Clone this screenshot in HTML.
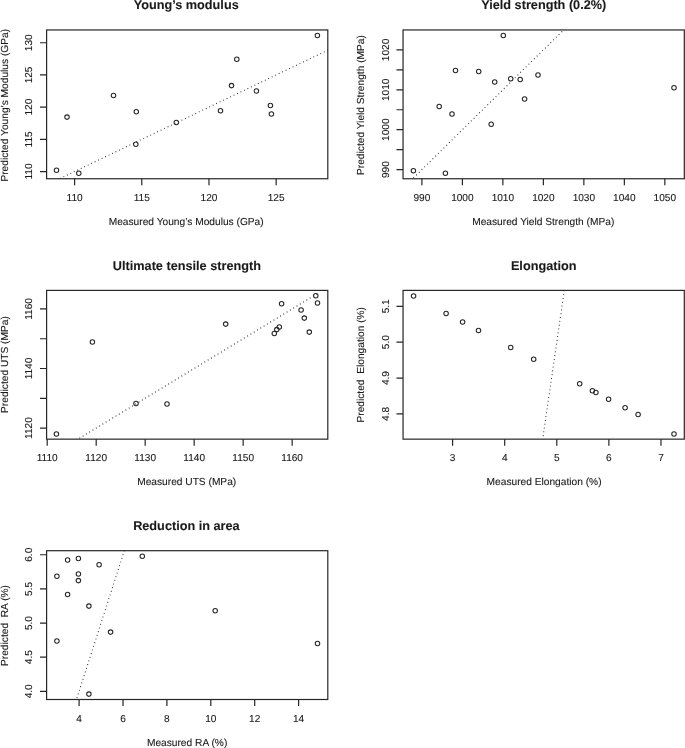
<!DOCTYPE html>
<html><head><meta charset="utf-8"><title>Predicted vs measured</title>
<style>
html,body{margin:0;padding:0;background:#fff;}
body{width:685px;height:748px;overflow:hidden;}
svg{display:block;will-change:transform;filter:grayscale(1) blur(0.3px);}
text{text-rendering:geometricPrecision;font-family:"Liberation Sans",sans-serif;fill:#1a1a1a;stroke:#1a1a1a;stroke-width:0.1px;}
.a{font-size:10.2px;}
.t{font-size:12.7px;font-weight:bold;}
.k{font-size:10.1px;}
.l{stroke:#262626;stroke-width:1.2;fill:none;}
.c{stroke:#262626;stroke-width:1.05;fill:none;}
.d{stroke:#262626;stroke-width:1.05;fill:none;stroke-dasharray:0.9 2.95;}
</style></head><body>
<svg width="685" height="748" viewBox="0 0 685 748">
<rect x="0" y="0" width="685" height="748" fill="#fff"/>
<g>
<clipPath id="cp0"><rect x="46.6" y="29.95" width="281.20" height="148.80"/></clipPath>
<rect class="l" x="46.6" y="29.95" width="281.20" height="148.80"/>
<line class="d" clip-path="url(#cp0)" x1="56.50" y1="180.22" x2="358.68" y2="35.40"/>
<path class="l" d="M74.60 178.75v6.6M141.78 178.75v6.6M208.97 178.75v6.6M276.15 178.75v6.6M46.6 171.55h-6.6M46.6 139.35h-6.6M46.6 107.15h-6.6M46.6 74.95h-6.6M46.6 42.75h-6.6"/>
<text class="k" text-anchor="middle" x="74.60" y="200.65">110</text>
<text class="k" text-anchor="middle" x="141.78" y="200.65">115</text>
<text class="k" text-anchor="middle" x="208.97" y="200.65">120</text>
<text class="k" text-anchor="middle" x="276.15" y="200.65">125</text>
<text class="k" text-anchor="middle" transform="translate(32.20 171.55) rotate(-90)">110</text>
<text class="k" text-anchor="middle" transform="translate(32.20 139.35) rotate(-90)">115</text>
<text class="k" text-anchor="middle" transform="translate(32.20 107.15) rotate(-90)">120</text>
<text class="k" text-anchor="middle" transform="translate(32.20 74.95) rotate(-90)">125</text>
<text class="k" text-anchor="middle" transform="translate(32.20 42.75) rotate(-90)">130</text>
<text class="t" text-anchor="middle" x="186.20" y="9.45">Young’s modulus</text>
<text class="a" text-anchor="middle" x="186.20" y="224.70">Measured Young’s Modulus (GPa)</text>
<text class="a" text-anchor="middle" transform="translate(7.70 105.25) rotate(-90)" xml:space="preserve">Predicted Young’s Modulus (GPa)</text>
<circle class="c" cx="56.5" cy="170.3" r="2.25"/>
<circle class="c" cx="78.8" cy="173.3" r="2.25"/>
<circle class="c" cx="67.0" cy="117.1" r="2.25"/>
<circle class="c" cx="113.5" cy="95.4" r="2.25"/>
<circle class="c" cx="136.3" cy="111.7" r="2.25"/>
<circle class="c" cx="135.8" cy="144.2" r="2.25"/>
<circle class="c" cx="317.4" cy="35.4" r="2.25"/>
<circle class="c" cx="236.8" cy="59.3" r="2.25"/>
<circle class="c" cx="231.5" cy="85.6" r="2.25"/>
<circle class="c" cx="256.4" cy="90.9" r="2.25"/>
<circle class="c" cx="270.4" cy="105.4" r="2.25"/>
<circle class="c" cx="271.4" cy="114.0" r="2.25"/>
<circle class="c" cx="220.5" cy="110.7" r="2.25"/>
<circle class="c" cx="176.3" cy="122.5" r="2.25"/>
</g>
<g>
<clipPath id="cp1"><rect x="403.05" y="29.95" width="281.25" height="148.80"/></clipPath>
<rect class="l" x="403.05" y="29.95" width="281.25" height="148.80"/>
<line class="d" clip-path="url(#cp1)" x1="413.40" y1="177.98" x2="674.00" y2="-78.83"/>
<path class="l" d="M421.90 178.75v6.6M462.39 178.75v6.6M502.88 178.75v6.6M543.37 178.75v6.6M583.86 178.75v6.6M624.35 178.75v6.6M664.84 178.75v6.6M403.05 169.60h-6.6M403.05 149.65h-6.6M403.05 129.70h-6.6M403.05 109.75h-6.6M403.05 89.80h-6.6M403.05 69.85h-6.6M403.05 49.90h-6.6"/>
<text class="k" text-anchor="middle" x="421.90" y="200.65">990</text>
<text class="k" text-anchor="middle" x="462.39" y="200.65">1000</text>
<text class="k" text-anchor="middle" x="502.88" y="200.65">1010</text>
<text class="k" text-anchor="middle" x="543.37" y="200.65">1020</text>
<text class="k" text-anchor="middle" x="583.86" y="200.65">1030</text>
<text class="k" text-anchor="middle" x="624.35" y="200.65">1040</text>
<text class="k" text-anchor="middle" x="664.84" y="200.65">1050</text>
<text class="k" text-anchor="middle" transform="translate(388.65 169.60) rotate(-90)">990</text>
<text class="k" text-anchor="middle" transform="translate(388.65 129.70) rotate(-90)">1000</text>
<text class="k" text-anchor="middle" transform="translate(388.65 89.80) rotate(-90)">1010</text>
<text class="k" text-anchor="middle" transform="translate(388.65 49.90) rotate(-90)">1020</text>
<text class="t" text-anchor="middle" x="543.77" y="9.45">Yield strength (0.2%)</text>
<text class="a" text-anchor="middle" x="543.27" y="224.70">Measured Yield Strength (MPa)</text>
<text class="a" text-anchor="middle" transform="translate(364.15 105.05) rotate(-90)" xml:space="preserve">Predicted Yield Strength (MPa)</text>
<circle class="c" cx="503.3" cy="35.4" r="2.25"/>
<circle class="c" cx="455.5" cy="70.5" r="2.25"/>
<circle class="c" cx="478.7" cy="71.5" r="2.25"/>
<circle class="c" cx="494.7" cy="82.0" r="2.25"/>
<circle class="c" cx="510.7" cy="78.8" r="2.25"/>
<circle class="c" cx="439.2" cy="106.4" r="2.25"/>
<circle class="c" cx="452.0" cy="114.0" r="2.25"/>
<circle class="c" cx="491.2" cy="124.3" r="2.25"/>
<circle class="c" cx="413.4" cy="170.8" r="2.25"/>
<circle class="c" cx="445.4" cy="173.3" r="2.25"/>
<circle class="c" cx="520.2" cy="79.5" r="2.25"/>
<circle class="c" cx="538.0" cy="74.9" r="2.25"/>
<circle class="c" cx="524.6" cy="99.0" r="2.25"/>
<circle class="c" cx="674.0" cy="87.7" r="2.25"/>
</g>
<g>
<clipPath id="cp2"><rect x="46.6" y="290.4" width="281.20" height="148.75"/></clipPath>
<rect class="l" x="46.6" y="290.4" width="281.20" height="148.75"/>
<line class="d" clip-path="url(#cp2)" x1="56.40" y1="452.23" x2="317.50" y2="293.57"/>
<path class="l" d="M47.20 439.15v6.6M96.19 439.15v6.6M145.18 439.15v6.6M194.17 439.15v6.6M243.16 439.15v6.6M292.15 439.15v6.6M46.6 428.05h-6.6M46.6 398.28h-6.6M46.6 368.51h-6.6M46.6 338.74h-6.6M46.6 308.97h-6.6"/>
<text class="k" text-anchor="middle" x="47.20" y="461.05">1110</text>
<text class="k" text-anchor="middle" x="96.19" y="461.05">1120</text>
<text class="k" text-anchor="middle" x="145.18" y="461.05">1130</text>
<text class="k" text-anchor="middle" x="194.17" y="461.05">1140</text>
<text class="k" text-anchor="middle" x="243.16" y="461.05">1150</text>
<text class="k" text-anchor="middle" x="292.15" y="461.05">1160</text>
<text class="k" text-anchor="middle" transform="translate(32.20 428.05) rotate(-90)">1120</text>
<text class="k" text-anchor="middle" transform="translate(32.20 368.51) rotate(-90)">1140</text>
<text class="k" text-anchor="middle" transform="translate(32.20 308.97) rotate(-90)">1160</text>
<text class="t" text-anchor="middle" x="186.90" y="269.90">Ultimate tensile strength</text>
<text class="a" text-anchor="middle" x="186.70" y="485.10">Measured UTS (MPa)</text>
<text class="a" text-anchor="middle" transform="translate(7.70 364.57) rotate(-90)" xml:space="preserve">Predicted UTS (MPa)</text>
<circle class="c" cx="92.4" cy="341.9" r="2.25"/>
<circle class="c" cx="56.4" cy="433.9" r="2.25"/>
<circle class="c" cx="136.0" cy="403.5" r="2.25"/>
<circle class="c" cx="167.0" cy="404.0" r="2.25"/>
<circle class="c" cx="315.8" cy="295.7" r="2.25"/>
<circle class="c" cx="317.5" cy="302.9" r="2.25"/>
<circle class="c" cx="281.6" cy="303.7" r="2.25"/>
<circle class="c" cx="301.1" cy="309.9" r="2.25"/>
<circle class="c" cx="304.3" cy="318.1" r="2.25"/>
<circle class="c" cx="225.7" cy="324.1" r="2.25"/>
<circle class="c" cx="279.3" cy="326.9" r="2.25"/>
<circle class="c" cx="276.8" cy="329.6" r="2.25"/>
<circle class="c" cx="274.3" cy="333.4" r="2.25"/>
<circle class="c" cx="309.3" cy="332.1" r="2.25"/>
</g>
<g>
<clipPath id="cp3"><rect x="403.05" y="290.4" width="281.25" height="148.75"/></clipPath>
<rect class="l" x="403.05" y="290.4" width="281.25" height="148.75"/>
<line class="d" clip-path="url(#cp3)" x1="413.60" y1="1327.61" x2="674.00" y2="-464.55"/>
<path class="l" d="M452.60 439.15v6.6M504.69 439.15v6.6M556.78 439.15v6.6M608.87 439.15v6.6M660.96 439.15v6.6M403.05 413.90h-6.6M403.05 378.05h-6.6M403.05 342.20h-6.6M403.05 306.35h-6.6"/>
<text class="k" text-anchor="middle" x="452.60" y="461.05">3</text>
<text class="k" text-anchor="middle" x="504.69" y="461.05">4</text>
<text class="k" text-anchor="middle" x="556.78" y="461.05">5</text>
<text class="k" text-anchor="middle" x="608.87" y="461.05">6</text>
<text class="k" text-anchor="middle" x="660.96" y="461.05">7</text>
<text class="k" text-anchor="middle" transform="translate(388.65 413.90) rotate(-90)">4.8</text>
<text class="k" text-anchor="middle" transform="translate(388.65 378.05) rotate(-90)">4.9</text>
<text class="k" text-anchor="middle" transform="translate(388.65 342.20) rotate(-90)">5.0</text>
<text class="k" text-anchor="middle" transform="translate(388.65 306.35) rotate(-90)">5.1</text>
<text class="t" text-anchor="middle" x="543.67" y="269.90">Elongation</text>
<text class="a" text-anchor="middle" x="544.07" y="485.10">Measured Elongation (%)</text>
<text class="a" text-anchor="middle" transform="translate(364.15 364.77) rotate(-90)" xml:space="preserve">Predicted  Elongation (%)</text>
<circle class="c" cx="413.6" cy="295.9" r="2.25"/>
<circle class="c" cx="446.1" cy="313.4" r="2.25"/>
<circle class="c" cx="462.6" cy="321.9" r="2.25"/>
<circle class="c" cx="478.5" cy="330.4" r="2.25"/>
<circle class="c" cx="510.7" cy="347.4" r="2.25"/>
<circle class="c" cx="533.7" cy="359.3" r="2.25"/>
<circle class="c" cx="579.7" cy="383.7" r="2.25"/>
<circle class="c" cx="592.4" cy="390.7" r="2.25"/>
<circle class="c" cx="595.9" cy="392.5" r="2.25"/>
<circle class="c" cx="608.6" cy="399.2" r="2.25"/>
<circle class="c" cx="625.1" cy="407.7" r="2.25"/>
<circle class="c" cx="638.1" cy="414.4" r="2.25"/>
<circle class="c" cx="674.0" cy="433.9" r="2.25"/>
</g>
<g>
<clipPath id="cp4"><rect x="46.6" y="550.7" width="281.20" height="148.80"/></clipPath>
<rect class="l" x="46.6" y="550.7" width="281.20" height="148.80"/>
<line class="d" clip-path="url(#cp4)" x1="56.90" y1="760.35" x2="317.50" y2="-50.18"/>
<path class="l" d="M79.10 699.5v6.6M123.00 699.5v6.6M166.90 699.5v6.6M210.80 699.5v6.6M254.70 699.5v6.6M298.60 699.5v6.6M46.6 691.30h-6.6M46.6 657.16h-6.6M46.6 623.03h-6.6M46.6 588.89h-6.6M46.6 554.76h-6.6"/>
<text class="k" text-anchor="middle" x="79.10" y="721.95">4</text>
<text class="k" text-anchor="middle" x="123.00" y="721.95">6</text>
<text class="k" text-anchor="middle" x="166.90" y="721.95">8</text>
<text class="k" text-anchor="middle" x="210.80" y="721.95">10</text>
<text class="k" text-anchor="middle" x="254.70" y="721.95">12</text>
<text class="k" text-anchor="middle" x="298.60" y="721.95">14</text>
<text class="k" text-anchor="middle" transform="translate(32.20 691.30) rotate(-90)">4.0</text>
<text class="k" text-anchor="middle" transform="translate(32.20 657.16) rotate(-90)">4.5</text>
<text class="k" text-anchor="middle" transform="translate(32.20 623.03) rotate(-90)">5.0</text>
<text class="k" text-anchor="middle" transform="translate(32.20 588.89) rotate(-90)">5.5</text>
<text class="k" text-anchor="middle" transform="translate(32.20 554.76) rotate(-90)">6.0</text>
<text class="t" text-anchor="middle" x="186.40" y="530.20">Reduction in area</text>
<text class="a" text-anchor="middle" x="187.10" y="746.00">Measured RA (%)</text>
<text class="a" text-anchor="middle" transform="translate(7.70 625.50) rotate(-90)" xml:space="preserve">Predicted  RA (%)</text>
<circle class="c" cx="56.9" cy="576.2" r="2.25"/>
<circle class="c" cx="67.6" cy="559.9" r="2.25"/>
<circle class="c" cx="78.4" cy="558.4" r="2.25"/>
<circle class="c" cx="99.1" cy="564.7" r="2.25"/>
<circle class="c" cx="78.4" cy="573.9" r="2.25"/>
<circle class="c" cx="78.4" cy="580.6" r="2.25"/>
<circle class="c" cx="67.6" cy="594.4" r="2.25"/>
<circle class="c" cx="88.9" cy="606.1" r="2.25"/>
<circle class="c" cx="142.3" cy="556.2" r="2.25"/>
<circle class="c" cx="110.6" cy="632.1" r="2.25"/>
<circle class="c" cx="56.9" cy="641.0" r="2.25"/>
<circle class="c" cx="88.9" cy="694.1" r="2.25"/>
<circle class="c" cx="215.2" cy="610.8" r="2.25"/>
<circle class="c" cx="317.5" cy="643.5" r="2.25"/>
</g>
</svg></body></html>
